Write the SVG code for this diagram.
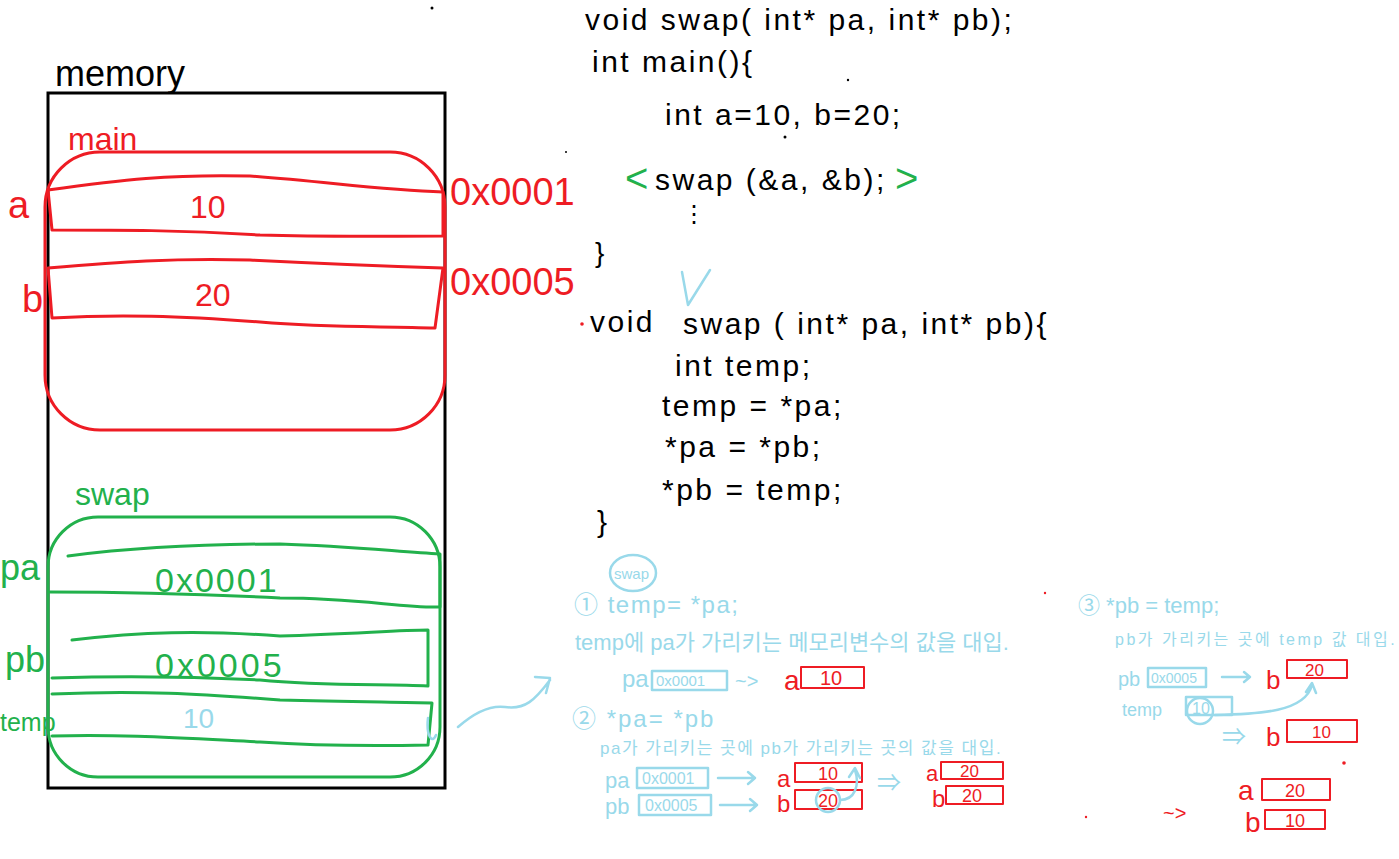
<svg xmlns="http://www.w3.org/2000/svg" width="1399" height="859" viewBox="0 0 1399 859">
<style>
.k{fill:#000;font-family:"Liberation Sans","Noto Sans CJK KR",sans-serif}
.c{font-size:30px;letter-spacing:2.5px}
.r{fill:#ee1c24;font-family:"Liberation Sans","Noto Sans CJK KR",sans-serif}
.g{fill:#22b14c;font-family:"Liberation Sans","Noto Sans CJK KR",sans-serif}
.b{fill:#99d9ea;font-family:"Liberation Sans","Noto Sans CJK KR",sans-serif}
.sr{fill:none;stroke:#ee1c24;stroke-width:3;stroke-linecap:round;stroke-linejoin:round}
.sg{fill:none;stroke:#22b14c;stroke-width:3;stroke-linecap:round;stroke-linejoin:round}
.sb{fill:none;stroke:#99d9ea;stroke-width:2.5;stroke-linecap:round;stroke-linejoin:round}
.sr2{fill:none;stroke:#ee1c24;stroke-width:2;stroke-linejoin:round}
</style>
<rect width="1399" height="859" fill="#fff"/>

<g id="memory">
<rect x="48" y="93" width="397" height="695" fill="none" stroke="#000" stroke-width="3"/>
<text class="k" x="55" y="86" font-size="36">memory</text>
</g>

<g id="main-frame">
<text class="r" x="68" y="150" font-size="32">main</text>
<rect class="sr" x="45" y="152" width="400" height="278" rx="55"/>
<path class="sr" d="M48 190 C120 180 170 174 250 176 C330 182 380 190 443 192 L443 236 C380 236 330 237 260 235 C180 230 120 230 52 230 Z"/>
<text class="r" x="8" y="218" font-size="38">a</text>
<text class="r" x="190" y="218" font-size="32">10</text>
<text class="r" x="450" y="205" font-size="38">0x0001</text>
<path class="sr" d="M48 268 C120 262 170 258 250 260 C330 264 380 266 443 268 L435 328 C380 326 330 328 260 322 C180 316 120 314 52 318 Z"/>
<text class="r" x="22" y="312" font-size="38">b</text>
<text class="r" x="195" y="306" font-size="32">20</text>
<text class="r" x="450" y="295" font-size="38">0x0005</text>
</g>

<g id="swap-frame">
<text class="g" x="75" y="505" font-size="32">swap</text>
<rect class="sg" x="48" y="517" width="392" height="260" rx="50"/>
<path class="sg" d="M68 556 C130 548 200 544 280 544 C350 546 400 552 440 554 L440 607 C400 608 360 598 280 598 C200 594 120 592 50 592"/>
<text class="g" x="0" y="580" font-size="36">pa</text>
<text class="g" x="155" y="592" font-size="34" letter-spacing="2">0x0001</text>
<path class="sg" d="M72 640 C140 632 200 630 280 636 C350 634 400 630 428 630 L428 686 C380 684 320 686 260 680 C180 676 120 676 52 678"/>
<text class="g" x="5" y="672" font-size="36">pb</text>
<text class="g" x="155" y="677" font-size="34" letter-spacing="3">0x0005</text>
<path class="sg" d="M52 694 C140 690 200 694 280 700 C350 702 400 702 432 703 L428 745 C380 746 320 746 260 742 C180 738 120 734 52 736"/>
<text class="g" x="0" y="731" font-size="25">temp</text>
<text class="b" x="183" y="728" font-size="28">10</text>
</g>

<g id="code">
<text class="k c" x="585" y="30">void  swap( int* pa,  int* pb);</text>
<text class="k c" x="592" y="72">int  main(){</text>
<text class="k c" x="665" y="125">int  a=10,  b=20;</text>
<text class="g" x="625" y="192" font-size="40">&lt;</text>
<text class="k c" x="655" y="190">swap (&amp;a,  &amp;b);</text>
<text class="g" x="895" y="192" font-size="40">&gt;</text>
<text class="k" x="682" y="222" font-size="24">⋮</text>
<text class="k" x="595" y="262" font-size="28">}</text>
<text class="k c" x="590" y="332">void</text>
<text class="k c" x="683" y="334">swap ( int* pa,  int* pb){</text>
<text class="k c" x="675" y="376">int  temp;</text>
<text class="k c" x="662" y="416">temp =  *pa;</text>
<text class="k c" x="665" y="457">*pa =  *pb;</text>
<text class="k c" x="662" y="500">*pb =  temp;</text>
<text class="k" x="597" y="532" font-size="30">}</text>
</g>

<g id="notes1">
<ellipse class="sb" cx="633" cy="573" rx="23" ry="18"/>
<text class="b" x="614" y="579" font-size="15">swap</text>
<text class="b" x="574" y="613" font-size="24" letter-spacing="1.5">① temp= *pa;</text>
<text class="b" x="575" y="650" font-size="22">temp에   pa가 가리키는 메모리변수의 값을 대입.</text>
<text class="b" x="622" y="687" font-size="24">pa</text>
<rect class="sb" x="652" y="671" width="75" height="19"/>
<text class="b" x="656" y="686" font-size="15">0x0001</text>
<text class="b" x="735" y="688" font-size="20">~&gt;</text>
<text class="r" x="784" y="690" font-size="28">a</text>
<rect class="sr2" x="801" y="667" width="63" height="21"/>
<text class="r" x="820" y="685" font-size="20">10</text>
</g>

<g id="notes2">
<text class="b" x="572" y="727" font-size="24" letter-spacing="2">② *pa= *pb</text>
<text class="b" x="600" y="754" font-size="17" letter-spacing="1.5">pa가 가리키는 곳에     pb가 가리키는 곳의 값을 대입.</text>
<text class="b" x="605" y="788" font-size="22">pa</text>
<rect class="sb" x="637" y="768" width="71" height="20"/>
<text class="b" x="642" y="784" font-size="16">0x0001</text>
<text class="b" x="605" y="814" font-size="22">pb</text>
<rect class="sb" x="639" y="795" width="72" height="20"/>
<text class="b" x="645" y="811" font-size="16">0x0005</text>
<text class="r" x="777" y="787" font-size="24">a</text>
<rect class="sr2" x="795" y="763" width="67" height="19"/>
<text class="r" x="818" y="780" font-size="18">10</text>
<text class="r" x="777" y="812" font-size="24">b</text>
<rect class="sr2" x="795" y="790" width="67" height="19"/>
<text class="r" x="818" y="807" font-size="18">20</text>
<circle class="sb" cx="828" cy="800" r="12"/>
<text class="b" x="877" y="791" font-size="24">⇒</text>
<text class="r" x="926" y="781" font-size="22">a</text>
<rect class="sr2" x="941" y="762" width="62" height="17"/>
<text class="r" x="960" y="777" font-size="17">20</text>
<text class="r" x="932" y="807" font-size="24">b</text>
<rect class="sr2" x="946" y="786" width="57" height="18"/>
<text class="r" x="962" y="802" font-size="18">20</text>
</g>

<g id="notes3">
<text class="b" x="1078" y="613" font-size="22">③ *pb = temp;</text>
<text class="b" x="1115" y="645" font-size="16" letter-spacing="2.5">pb가 가리키는 곳에   temp 값 대입.</text>
<text class="b" x="1118" y="686" font-size="20">pb</text>
<rect class="sb" x="1148" y="668" width="58" height="19"/>
<text class="b" x="1151" y="683" font-size="14">0x0005</text>
<text class="r" x="1266" y="689" font-size="26">b</text>
<rect class="sr2" x="1287" y="660" width="60" height="18"/>
<text class="r" x="1305" y="676" font-size="17">20</text>
<text class="b" x="1122" y="716" font-size="18">temp</text>
<rect class="sb" x="1186" y="697" width="46" height="18"/>
<circle class="sb" cx="1200" cy="711" r="13"/>
<text class="b" x="1192" y="714" font-size="16">10</text>
<text class="b" x="1222" y="745" font-size="24">⇒</text>
<text class="r" x="1266" y="746" font-size="26">b</text>
<rect class="sr2" x="1287" y="720" width="70" height="22"/>
<text class="r" x="1312" y="738" font-size="17">10</text>
<text class="r" x="1163" y="820" font-size="20">~&gt;</text>
<text class="r" x="1238" y="800" font-size="28">a</text>
<rect class="sr2" x="1262" y="779" width="68" height="21"/>
<text class="r" x="1285" y="797" font-size="18">20</text>
<text class="r" x="1245" y="832" font-size="28">b</text>
<rect class="sr2" x="1265" y="810" width="60" height="19"/>
<text class="r" x="1285" y="827" font-size="18">10</text>
</g>

<g id="connectors">
<path class="sb" stroke-width="4" d="M428 718 C426 735 432 745 436 735 M458 727 C475 712 490 705 505 707 C525 710 535 700 550 680 M535 677 L550 678 L546 693"/>
<path class="sb" stroke-width="4" d="M682 272 L688 305 L710 270"/>
<path class="sb" d="M718 778 L755 778 M748 772 L755 778 L748 784"/>
<path class="sb" d="M720 805 L757 805 M750 799 L757 805 L750 811"/>
<path class="sb" d="M840 800 C855 800 860 785 855 770 M849 777 L855 768 L860 778"/>
<path class="sb" d="M1222 677 L1250 677 M1244 672 L1250 677 L1244 682"/>
<path class="sb" d="M1215 715 C1260 714 1305 712 1312 685 M1306 692 L1312 683 L1316 693"/>
</g>

<g id="specks" fill="#000">
<circle cx="432" cy="8" r="1.5"/>
<circle cx="848" cy="80" r="1.2"/>
<circle cx="785" cy="137" r="1.5"/>
<circle cx="566" cy="152" r="1"/>
<circle cx="582" cy="324" r="1.8" fill="#ee1c24"/>
<circle cx="1344" cy="763" r="1.8" fill="#ee1c24"/>
<circle cx="1086" cy="817" r="1.2" fill="#ee1c24"/>
<circle cx="1045" cy="593" r="1.2" fill="#ee1c24"/>
</g>
</svg>
